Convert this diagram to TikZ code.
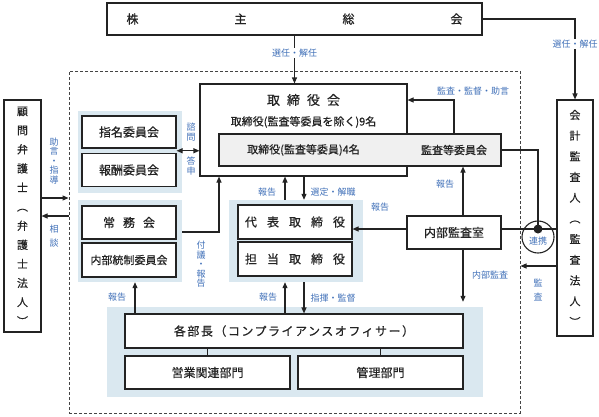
\documentclass[tikz,border=0pt]{standalone}
\usepackage{fontspec}
\setmainfont{Noto Sans CJK JP}
\newfontfamily\boxfont[FakeBold=0.5]{Noto Sans CJK JP}
\newfontfamily\lblfont{Noto Sans CJK JP}
\usetikzlibrary{arrows.meta,calc}
\definecolor{lblue}{RGB}{64,112,184}
\definecolor{bgblue}{RGB}{218,232,240}
\definecolor{grayfill}{RGB}{240,240,240}
\definecolor{ink}{RGB}{35,35,35}
\begin{document}
\begin{tikzpicture}[x=1pt,y=-1pt,
  font=\boxfont\fontsize{12}{14}\selectfont,
  box/.style={draw=ink, line width=1.1pt, fill=white, rectangle, inner sep=0pt, text=ink},
  bgbox/.style={fill=bgblue, draw=none, rectangle, inner sep=0pt},
  txt/.style={text=ink, inner sep=0pt},
  lbl/.style={text=lblue, font=\lblfont\fontsize{9}{11}\selectfont, inner sep=1pt},
  vlbl/.style={text=lblue, font=\lblfont\fontsize{9}{11}\selectfont, inner sep=0pt, align=center},
  ln/.style={draw=ink, line width=1.1pt},
  arr/.style={draw=ink, line width=1.1pt, -{Triangle[length=6pt,width=5pt]}},
  arrboth/.style={draw=ink, line width=1.1pt, {Triangle[length=6pt,width=5pt]}-{Triangle[length=6pt,width=5pt]}}
]
\useasboundingbox (0,0) rectangle (599,416);

% dashed company frame
\node[draw=ink!85, dash pattern=on 3pt off 2pt, line width=1pt, minimum width=451pt, minimum height=342pt, inner sep=0pt] (group) at (294.5,242) {};

% light blue groups
\node[bgbox, minimum width=104pt, minimum height=82pt] (bgA) at (130,152) {};
\node[bgbox, minimum width=104pt, minimum height=82pt] (bgB) at (130,241) {};
\node[bgbox, minimum width=134pt, minimum height=82pt] (bgC) at (296,241) {};
\node[bgbox, minimum width=376pt, minimum height=90pt] (bgD) at (295,352) {};

% top
\node[box, minimum width=375pt, minimum height=32pt] (kabu) at (294.5,19) {株\hspace{96pt}主\hspace{96pt}総\hspace{96pt}会};

% board
\node[box, minimum width=207pt, minimum height=92pt] (tori) at (303.5,130) {};
\node[txt, font=\boxfont\fontsize{13}{15}\selectfont] (toriT) at (303.5,100) {取\hspace{7pt}締\hspace{7pt}役\hspace{7pt}会};
\node[txt, font=\boxfont\fontsize{11}{13}\selectfont] (toriS) at (303.5,122) {取締役(監査等委員を除く)9名};
\node[box, fill=grayfill, minimum width=282pt, minimum height=32pt] (kansa) at (360,150) {};
\node[txt, font=\boxfont\fontsize{11}{13}\selectfont] (kansaL) at (303.5,150) {取締役(監査等委員)4名};
\node[txt, font=\boxfont\fontsize{11}{13}\selectfont] (kansaR) at (454,150) {監査等委員会};

% side boxes
\node[box, minimum width=37pt, minimum height=232pt, align=center, font=\boxfont\fontsize{11}{19.1}\selectfont] (komon) at (22.5,216) {顧\\問\\弁\\護\\士\\︵\\弁\\護\\士\\法\\人\\︶};
\node[box, minimum width=36pt, minimum height=236pt, align=center, font=\boxfont\fontsize{11}{20.7}\selectfont] (kaikei) at (575,218) {会\\計\\監\\査\\人\\︵\\監\\査\\法\\人\\︶};

% left committees
\node[box, minimum width=94pt, minimum height=32pt] (shimei) at (129,132) {指名委員会};
\node[box, minimum width=94pt, minimum height=33pt] (houshu) at (129,170) {報酬委員会};
\node[box, minimum width=94pt, minimum height=33pt] (joumu) at (129,222.5) {常\hspace{8pt}務\hspace{8pt}会};
\node[box, minimum width=94pt, minimum height=34pt, font=\boxfont\fontsize{11}{13}\selectfont] (tousei) at (129,260) {内部統制委員会};

% executives
\node[box, minimum width=114pt, minimum height=34pt] (daihyo) at (295,222) {代\hspace{10pt}表\hspace{10pt}取\hspace{10pt}締\hspace{10pt}役};
\node[box, minimum width=114pt, minimum height=34pt] (tantou) at (295,259) {担\hspace{10pt}当\hspace{10pt}取\hspace{10pt}締\hspace{10pt}役};

% internal audit
\node[box, minimum width=94pt, minimum height=33pt] (naibu) at (454,232.5) {内部監査室};

% departments
\node[box, minimum width=338pt, minimum height=34pt] (bucho) at (294,331) {\addfontfeature{LetterSpace=12.5}各部長（コンプライアンスオフィサー）};
\node[box, minimum width=165pt, minimum height=33pt] (eigyo) at (207.5,372.5) {営業関連部門};
\node[box, minimum width=165pt, minimum height=33pt] (kanri) at (380.5,372.5) {管理部門};

% renkei circle
\coordinate (dotc) at (538,229);
\node[circle, draw=ink, line width=1.1pt, fill=white, minimum size=32pt, inner sep=0pt] (renkei) at (538,237) {};
\node[lbl] (renkeiT) at (538,241) {連携};

% connectors
\draw[arr] (kabu.east) -| (kaikei.north);
\node[lbl, fill=white] (l1) at (575,44) {選任・解任};

\draw[arr] (kabu.south) -- (kabu.south |- tori.north);
\node[lbl, fill=white] (l2) at (294.5,53) {選任・解任};

\draw[arr] (kansa.north -| 454,0) |- (tori.east |- 0,100);
\node[lbl] (l3) at (473,91) {監査・監督・助言};

\draw[ln] (kansa.east) -| (dotc);
\draw[ln] (naibu.east |- dotc) -- (kaikei.west |- dotc);
\fill[ink] (dotc) circle (4.5pt);

\draw[arr] (naibu.west |- dotc) -- (daihyo.east |- dotc);
\node[lbl] (l4) at (380,207) {報告};

\draw[arr] (naibu.north -| 463,0) -- (kansa.south -| 463,0);
\node[lbl] (l5) at (445,184) {報告};

\draw[arr, shorten >=5pt] (naibu.south -| 463,0) -- (bgD.north -| 463,0);
\node[lbl] (l6) at (490,275) {内部監査};

\draw[arr] (kaikei.west |- 0,266) -- (group.east |- 0,266);
\node[vlbl, font=\lblfont\fontsize{9}{14}\selectfont] (l7) at (538,290) {監\\査};

\draw[arr] (komon.east |- 0,198) -- (group.west |- 0,198);
\draw[arr] (group.west |- 0,216) -- (komon.east |- 0,216);
\node[vlbl, font=\lblfont\fontsize{9}{9.5}\selectfont] (l8) at (54,161) {助\\言\\・\\指\\導};
\node[vlbl, font=\lblfont\fontsize{9}{14}\selectfont] (l9) at (54,236) {相\\談};

\coordinate (c1) at ($(shimei.south east)!0.5!(houshu.north east)$);
\draw[arrboth] (c1) -- (c1 -| tori.west);
\node[vlbl, font=\lblfont\fontsize{9}{10.5}\selectfont] (l10) at (191,132) {諮\\問};
\node[vlbl, font=\lblfont\fontsize{9}{10.5}\selectfont] (l11) at (191,166) {答\\申};

\draw[arr] (bgB.east |- 0,232) -| (tori.south -| 219,0);
\node[vlbl, font=\lblfont\fontsize{9}{9.5}\selectfont] (l12) at (201,264.5) {付\\議\\・\\報\\告};

\draw[arr] (bgC.north -| 285,0) -- (tori.south -| 285,0);
\node[lbl] (l13) at (267,192) {報告};
\draw[arr] (tori.south -| 304,0) -- (bgC.north -| 304,0);
\node[lbl] (l14) at (333,192) {選定・解職};

\draw[arr] (bucho.north -| 135,0) -- (bgB.south -| 135,0);
\node[lbl] (l15) at (117,297) {報告};
\draw[arr] (bucho.north -| 285,0) -- (bgC.south -| 285,0);
\node[lbl] (l16) at (268,297) {報告};
\draw[arr] (bgC.south -| 304,0) -- (bucho.north -| 304,0);
\node[lbl] (l17) at (333,298) {指揮・監督};

\draw[ln] (bucho.south -| eigyo.north) -- (eigyo.north);
\draw[ln] (bucho.south -| kanri.north) -- (kanri.north);
\end{tikzpicture}
\end{document}
